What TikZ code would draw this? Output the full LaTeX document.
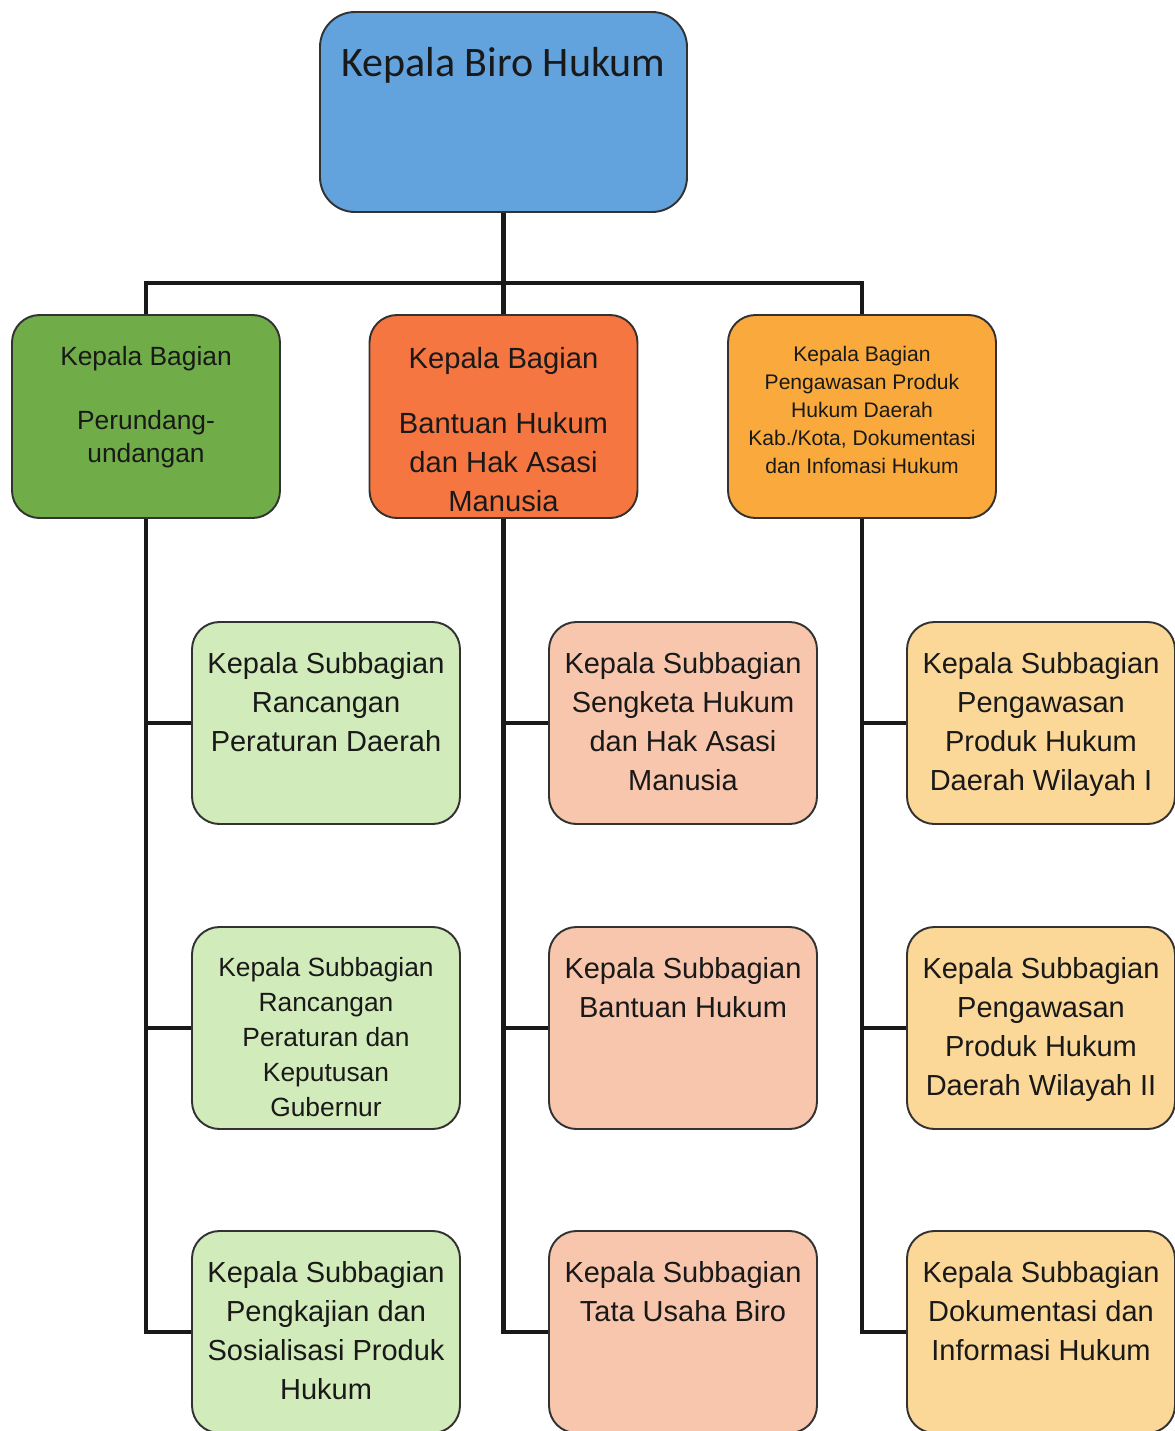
\documentclass[tikz,border=0pt]{standalone}
\usepackage{fontspec}
\setmainfont{Liberation Sans}
\newfontfamily\calibri{Carlito}
\usetikzlibrary{positioning}

\definecolor{headblue}{RGB}{98,163,222}
\definecolor{baggreen}{RGB}{112,172,72}
\definecolor{bagred}{RGB}{246,118,66}
\definecolor{bagorange}{RGB}{250,170,60}
\definecolor{subgreen}{RGB}{210,235,186}
\definecolor{subred}{RGB}{248,198,172}
\definecolor{suborange}{RGB}{251,215,152}
\definecolor{edge}{RGB}{50,50,50}
\definecolor{ink}{RGB}{25,25,25}

\begin{document}
\begin{tikzpicture}[
  head/.style={draw=edge, line width=1.1pt, rounded corners=0.7cm, inner sep=0pt,
               text=ink, minimum width=7.34cm, minimum height=4cm,
               font=\calibri\fontsize{23.9}{28}\selectfont,
               execute at begin node={\begin{minipage}[c][4cm][t]{7.34cm}\centering\vspace*{0.7cm}},
               execute at end node={\end{minipage}}},
  bag/.style={draw=edge, line width=1.1pt, rounded corners=0.55cm, inner sep=0pt,
              text=ink, minimum width=5.36cm, minimum height=4.06cm,
              execute at begin node={\begin{minipage}[c][4.06cm][t]{5.36cm}\centering\vspace*{0.62cm}},
              execute at end node={\end{minipage}}},
  sub/.style={draw=edge, line width=1.1pt, rounded corners=0.55cm, inner sep=0pt,
              text=ink, minimum width=5.36cm, minimum height=4.04cm,
              font=\fontsize{16.5}{22.2}\selectfont,
              execute at begin node={\begin{minipage}[c][4.04cm][t]{5.36cm}\centering\vspace*{0.61cm}},
              execute at end node={\end{minipage}}},
  link/.style={draw=ink, line width=2.8pt}
]
\useasboundingbox (0,0) rectangle (23.5,-28.62);

% head of the bureau
\node[head, fill=headblue] (top) at (10.07,-2.24) {Kepala Biro Hukum};

% heads of division
\node[bag, fill=baggreen, font=\fontsize{15}{18.8}\selectfont] (b1) at (2.92,-8.33)
  {Kepala Bagian\\[0.62cm]Perundang-\\undangan};
\node[bag, fill=bagred, execute at begin node={}, execute at end node={},
  path picture={\node[draw=none, fill=none, inner sep=0pt, align=center, anchor=north,
    minimum width=0pt, minimum height=0pt,
    text=ink, font=\fontsize{16.6}{22.2}\selectfont] (b2t)
    at (path picture bounding box.north)
    {Kepala Bagian\\[0.52cm]Bantuan Hukum\\dan Hak Asasi\\Manusia};}] (b2) at (10.07,-8.33) {};
\node[bag, fill=bagorange, font=\fontsize{12}{15.9}\selectfont] (b3) at (17.24,-8.33)
  {Kepala Bagian\\Pengawasan Produk\\Hukum Daerah\\Kab./Kota, Dokumentasi\\dan Infomasi Hukum};

% heads of subdivision
\node[sub, fill=subgreen] (s11) at (6.52,-14.46) {Kepala Subbagian\\Rancangan\\Peraturan Daerah};
\node[sub, fill=subgreen, font=\fontsize{15}{19.9}\selectfont] (s12) at (6.52,-20.56)
  {Kepala Subbagian\\Rancangan\\Peraturan dan\\Keputusan\\Gubernur};
\node[sub, fill=subgreen] (s13) at (6.52,-26.64) {Kepala Subbagian\\Pengkajian dan\\Sosialisasi Produk\\Hukum};

\node[sub, fill=subred] (s21) at (13.66,-14.46) {Kepala Subbagian\\Sengketa Hukum\\dan Hak Asasi\\Manusia};
\node[sub, fill=subred] (s22) at (13.66,-20.56) {Kepala Subbagian\\Bantuan Hukum};
\node[sub, fill=subred] (s23) at (13.66,-26.64) {Kepala Subbagian\\Tata Usaha Biro};

\node[sub, fill=suborange] (s31) at (20.82,-14.46) {Kepala Subbagian\\Pengawasan\\Produk Hukum\\Daerah Wilayah I};
\node[sub, fill=suborange] (s32) at (20.82,-20.56) {Kepala Subbagian\\Pengawasan\\Produk Hukum\\Daerah Wilayah II};
\node[sub, fill=suborange] (s33) at (20.82,-26.64) {Kepala Subbagian\\Dokumentasi dan\\Informasi Hukum};

% connectors
\coordinate (bus) at (10.07,-5.66);
\draw[link] (top.south) -- (b2.north);
\draw[link] (b1.north) |- (bus) -| (b3.north);

\draw[link] (b1.south) |- (s13.west);
\draw[link] (b1.south |- s11.west) -- (s11.west);
\draw[link] (b1.south |- s12.west) -- (s12.west);
\draw[link] (b2.south) |- (s23.west);
\draw[link] (b2.south |- s21.west) -- (s21.west);
\draw[link] (b2.south |- s22.west) -- (s22.west);
\draw[link] (b3.south) |- (s33.west);
\draw[link] (b3.south |- s31.west) -- (s31.west);
\draw[link] (b3.south |- s32.west) -- (s32.west);
\end{tikzpicture}
\end{document}
